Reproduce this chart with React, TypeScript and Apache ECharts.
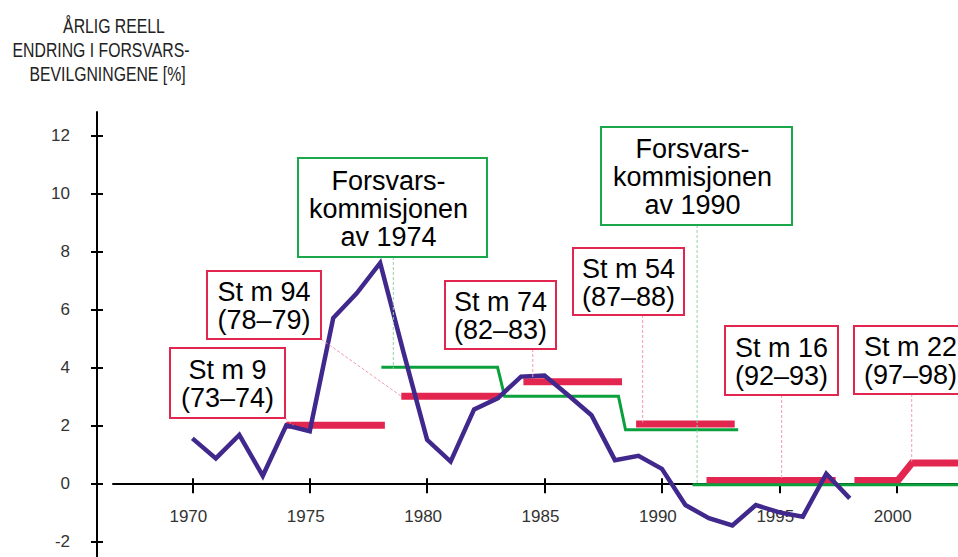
import React, { useEffect, useRef } from "react";
import * as echarts from "echarts";

// ---------- data ----------
const years = [
  1970, 1971, 1972, 1973, 1974, 1975, 1976, 1977, 1978, 1979, 1980, 1981, 1982, 1983, 1984,
  1985, 1986, 1987, 1988, 1989, 1990, 1991, 1992, 1993, 1994, 1995, 1996, 1997, 1998,
];
const realChange = [
  1.55, 0.86, 1.67, 0.26, 2.0, 1.8, 5.7, 6.55, 7.6, 4.5, 1.5, 0.75, 2.55, 2.93, 3.68,
  3.72, 3.05, 2.35, 0.8, 0.95, 0.5, -0.75, -1.2, -1.45, -0.75, -1.0, -1.15, 0.33, -0.52,
];

// Stortingsmeldinger (red planning levels): [year, value] polylines
const stm9 = [[1974.0, 2.0], [1978.2, 2.0]];
const stm94 = [[1978.9, 3.0], [1983.1, 3.0]];
const stm74 = [[1984.1, 3.5], [1988.3, 3.5]];
const stm54 = [[1988.9, 2.05], [1993.1, 2.05]];
const stm16 = [[1991.9, 0.1], [1997.4, 0.1]];
const stm22 = [[1998.2, 0.1], [2000.05, 0.1], [2000.65, 0.7], [2004.4, 0.7]];

// Forsvarskommisjonene (green levels)
const komm1974 = [[1978.05, 4.0], [1983.0, 4.0], [1983.3, 3.0], [1988.15, 3.0], [1988.45, 1.85], [1993.25, 1.85]];
const komm1990 = [[1991.3, -0.05], [2004.4, -0.05]];

const xTickYears = [1970, 1975, 1980, 1985, 1990, 1995, 2000];
const yTickValues = [-2, 0, 2, 4, 6, 8, 10, 12];

const titleLines = ["ÅRLIG REELL", "ENDRING I FORSVARS-", "BEVILGNINGENE [%]"];

const annotationTexts = [
  "St m 9\n(73–74)",
  "St m 94\n(78–79)",
  "Forsvars-\nkommisjonen\nav 1974",
  "St m 74\n(82–83)",
  "St m 54\n(87–88)",
  "Forsvars-\nkommisjonen\nav 1990",
  "St m 16\n(92–93)",
  "St m 22\n(97–98)",
];
// data point each annotation points at: [year, value]
const annotationTargets = [
  [1974.3, 2.0],
  [1978.9, 3.0],
  [1978.56, 3.95],
  [1984.5, 3.6],
  [1989.18, 2.1],
  [1991.5, 0.0],
  [1995.1, 0.18],
  [2000.64, 0.75],
];

// ---------- layout / styles ----------
const RED = "#e3264f";
const GREEN = "#0aa03c";
const BOX_GREEN = "#1aa84a";
const PURPLE = "#40288c";
const SANS = "'Liberation Sans', Arial, Helvetica, sans-serif";

const X_MIN = 1966.62;
const X_MAX = 2004.4;
const Y_MIN = -2.54;
const Y_MAX = 12.805;
const GRID_TOP = 112;
const GRID_H = 445;
const CHART_H = 557;
// place the x axis line on value 0
const X_AXIS_OFFSET = GRID_TOP + (Y_MAX / (Y_MAX - Y_MIN)) * GRID_H - CHART_H;

// box layout in pixels: [x, y, w, h], color, connector kind
const boxLayout: { rect: number[]; color: string; kind: "corner" | "vertical" }[] = [
  { rect: [170, 348, 115, 70], color: RED, kind: "corner" },
  { rect: [207, 271, 114, 68], color: RED, kind: "corner" },
  { rect: [298, 158, 189, 99], color: BOX_GREEN, kind: "vertical" },
  { rect: [445, 281, 111, 68], color: RED, kind: "vertical" },
  { rect: [573, 248, 111, 67], color: RED, kind: "vertical" },
  { rect: [601, 127, 191, 98], color: BOX_GREEN, kind: "vertical" },
  { rect: [725, 326, 113, 69], color: RED, kind: "vertical" },
  { rect: [854, 326, 113, 68], color: RED, kind: "vertical" },
];
const titleLayout = [
  { x: 114, y: 26 },
  { x: 101, y: 50 },
  { x: 107.5, y: 74 },
];

function seg(data: number[][], color: string, width: number, z: number) {
  return {
    type: "line",
    data,
    showSymbol: false,
    symbol: "none",
    z,
    silent: true,
    lineStyle: { color, width, cap: "butt", join: "miter" },
    xAxisIndex: 0,
    yAxisIndex: 0,
  };
}

export default function App() {
  const ref = useRef<HTMLDivElement>(null);
  useEffect(() => {
    if (!ref.current) return;
    const chart = echarts.init(ref.current, undefined, { renderer: "svg" });
    const xCommon = {
      type: "value",
      min: X_MIN,
      max: X_MAX,
      position: "bottom",
      offset: X_AXIS_OFFSET,
      splitLine: { show: false },
    };
    const yCommon = { type: "value", min: Y_MIN, max: Y_MAX, position: "left", offset: 16, splitLine: { show: false } };
    chart.setOption({
      animation: false,
      backgroundColor: "#fff",
      grid: { left: 113, right: 0, top: GRID_TOP, bottom: CHART_H - GRID_TOP - GRID_H, containLabel: false, outerBoundsMode: "none" },
      xAxis: [
        {
          ...xCommon,
          axisLine: { show: true, onZero: false, lineStyle: { color: "#000", width: 2 } },
          axisTick: { show: true, customValues: xTickYears, length: 10, lineStyle: { color: "#000", width: 2 } },
          axisLabel: {
            customValues: xTickYears,
            formatter: (v: number) => String(v),
            margin: 25,
            fontSize: 17,
            fontFamily: SANS,
            color: "#333",
            padding: [0, 8, 0, 0],
          },
        },
        {
          ...xCommon,
          axisLine: { show: false, onZero: false },
          axisTick: { show: true, inside: true, customValues: xTickYears, length: 5, lineStyle: { color: "#000", width: 2 } },
          axisLabel: { show: false },
        },
      ],
      yAxis: [
        {
          ...yCommon,
          axisLine: { show: true, onZero: false, lineStyle: { color: "#000", width: 2 } },
          axisTick: { show: true, customValues: yTickValues, length: 6, lineStyle: { color: "#000", width: 2 } },
          axisLabel: {
            customValues: yTickValues,
            formatter: (v: number) => String(v),
            margin: 27,
            fontSize: 17,
            fontFamily: SANS,
            color: "#333",
            padding: [0, 0, 4, 0],
          },
        },
        {
          ...yCommon,
          axisLine: { show: false, onZero: false },
          axisTick: { show: true, inside: true, customValues: yTickValues, length: 6, lineStyle: { color: "#000", width: 2 } },
          axisLabel: { show: false },
        },
      ],
      series: [
        seg(stm9, RED, 7, 2),
        seg(stm94, RED, 7, 2),
        seg(stm74, RED, 7, 2),
        seg(stm54, RED, 7, 2),
        seg(stm16, RED, 7, 2),
        seg(stm22, RED, 7, 2),
        seg(komm1974, GREEN, 3, 3),
        seg(komm1990, GREEN, 3, 3),
        {
          type: "line",
          data: years.map((y, i) => [y, realChange[i]]),
          showSymbol: false,
          symbol: "none",
          z: 4,
          silent: true,
          lineStyle: { color: PURPLE, width: 4.5, join: "miter", cap: "butt" },
        },
      ],
    });

    const toPx = (p: number[]) =>
      chart.convertToPixel({ xAxisIndex: 0, yAxisIndex: 0 }, p) as number[];

    const graphics: any[] = [];
    titleLines.forEach((t, i) => {
      graphics.push({
        type: "text",
        z: 10,
        x: titleLayout[i].x,
        y: titleLayout[i].y,
        scaleX: 0.81,
        style: {
          text: t,
          x: 0,
          y: 0,
          align: "center",
          verticalAlign: "middle",
          fontSize: 19.5,
          fontFamily: SANS,
          fill: "#222",
        },
      });
    });

    annotationTexts.forEach((txt, i) => {
      const { rect, color, kind } = boxLayout[i];
      const [bx, by, bw, bh] = rect;
      const target = toPx(annotationTargets[i]);
      const isGreen = color === BOX_GREEN;
      const dashColor = isGreen ? "#8fd4a6" : "#f29ab0";
      let x1: number, y1: number;
      if (kind === "corner") {
        x1 = bx + bw;
        y1 = by + bh;
      } else {
        x1 = target[0];
        y1 = by + bh;
      }
      graphics.push({
        type: "line",
        z: 5,
        silent: true,
        shape: { x1, y1, x2: target[0], y2: target[1] },
        style: { stroke: dashColor, lineWidth: 1, lineDash: [3, 2] },
      });
      graphics.push({
        type: "rect",
        z: 10,
        shape: { x: bx, y: by, width: bw, height: bh },
        style: { fill: "#fff", stroke: color, lineWidth: 2 },
      });
      graphics.push({
        type: "text",
        z: 11,
        style: {
          text: txt,
          x: bx + bw / 2 - (isGreen ? 4 : 0),
          y: by + bh / 2 + 1,
          align: "center",
          verticalAlign: "middle",
          fontSize: 27,
          lineHeight: 28,
          fontFamily: SANS,
          fill: "#000",
        },
      });
    });

    chart.setOption({ graphic: graphics });

    return () => chart.dispose();
  }, []);

  return (
    <div
      style={{
        position: "fixed",
        left: 0,
        top: 0,
        width: 958,
        height: 557,
        overflow: "hidden",
        background: "#fff",
      }}
    >
      <div ref={ref} style={{ width: 1000, height: 557 }} />
    </div>
  );
}
